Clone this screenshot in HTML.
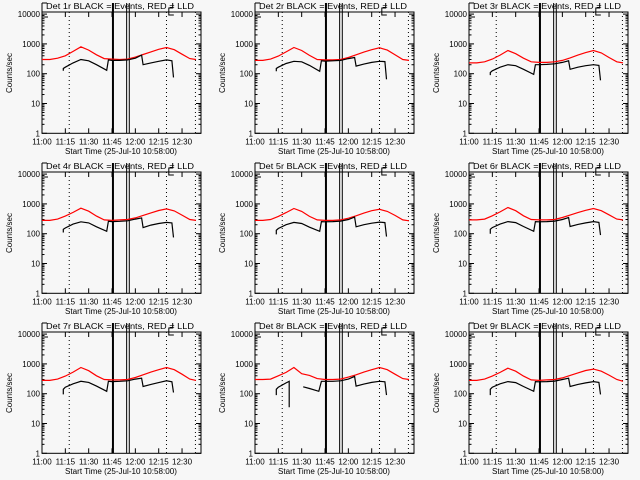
<!DOCTYPE html>
<html><head><meta charset="utf-8">
<style>
html,body{margin:0;padding:0;background:#f7f7f7;}
svg{display:block;}
text{font-family:"Liberation Sans",sans-serif;font-size:8px;fill:#000;}
</style></head>
<body>
<svg id="chart" width="640" height="480" viewBox="0 0 640 480" xmlns="http://www.w3.org/2000/svg"></svg>
<script>
const detNames = ["1r","2r","3r","4r","5r","6r","7r","8r","9r"];
const xTickLabels = ["11:00","11:15","11:30","11:45","12:00","12:15","12:30"];
const xTickMinutes = [0,15,30,45,60,75,90];
const yTickLabels = ["1","10","100","1000","10000"];
const yTickValues = [1,10,100,1000,10000];
const redTimes = [0,5,10,15,20,25,30,35,40,45,50,55,60,65,70,75,80,85,90,95,99];
const red1 = [300,300,330,400,560,800,620,430,320,310,300,310,360,440,540,660,760,640,450,320,300];
const red2 = [280,280,310,390,540,760,600,410,300,290,290,300,350,430,530,640,740,620,430,300,280];
const red3 = [230,230,250,310,420,600,470,330,250,240,240,250,280,340,420,510,600,500,350,250,230];
const red4 = [280,280,310,390,520,720,570,390,290,280,290,300,340,410,500,600,680,580,420,300,280];
const red5 = [280,280,300,380,510,700,560,380,290,280,280,290,330,400,490,590,660,560,410,290,270];
const red6 = [290,290,310,400,540,760,590,400,300,290,290,300,350,420,510,610,700,590,430,310,290];
const red7 = [280,280,310,390,530,760,590,400,300,290,290,300,350,430,530,640,760,640,450,310,280];
const red8 = [300,300,310,400,520,760,470,410,320,300,300,310,360,430,530,640,760,640,450,320,300];
const red9 = [280,280,310,390,520,720,570,390,290,280,290,300,340,410,500,600,670,570,420,300,260];
const blackTimes = [13.7,13.7,15,20,25,30,35,41.6,42.7,45,50,55,60,64,65,70,75,80,83.5,84.5];
const black1 = [125,150,165,230,300,270,200,130,290,280,280,290,330,420,200,230,260,290,270,75];
const black2 = [120,150,165,220,260,250,190,120,270,265,270,280,320,350,180,210,240,260,255,65];
const black3 = [90,110,125,165,200,185,140,95,200,200,205,215,240,270,140,165,185,200,190,60];
const black4 = [110,140,155,210,250,230,170,120,260,255,260,270,310,340,160,195,220,240,230,75];
const black5 = [95,130,150,200,240,220,165,120,255,250,255,265,300,360,170,200,225,245,235,80];
const black6 = [100,140,160,210,255,235,175,120,255,250,255,265,300,350,175,205,230,255,240,90];
const black7 = [95,140,165,215,260,240,180,120,260,255,260,270,310,330,175,205,235,270,250,110];
const black9 = [90,140,165,215,255,235,175,120,255,250,255,265,300,330,175,205,230,255,240,95];
const black8Times = [13.7,13.7,15,20,22,22,31,35,41,42.7,45,50,55,60,64,65,70,75,80,83.5,84.5];
const black8 = [90,140,165,230,260,35,170,150,120,260,260,260,270,310,380,180,210,240,260,250,90];
const redSeries = [red1,red2,red3,red4,red5,red6,red7,red8,red9];
const blackSeries = [black1,black2,black3,black4,black5,black6,black7,black8,black9];
const blackTimeSets = [blackTimes,blackTimes,blackTimes,blackTimes,blackTimes,blackTimes,blackTimes,black8Times,blackTimes];
const dottedMinutes = [17.5,80,98.6];
const markerMinutes = [45.6,54.4,56.1];

const svg = document.getElementById('chart');
const NS = 'http://www.w3.org/2000/svg';
function mk(tag, attrs, parent){
  const e = document.createElementNS(NS, tag);
  for (const k in attrs) e.setAttribute(k, attrs[k]);
  parent.appendChild(e);
  return e;
}
const colX = [0,213,427], rowY = [0,160,320];
const BL = 42, BR = 201, BT = 12, BB = 133.3;
const xScale = t => BL + t*1.556;
const yScale = v => BB - Math.log10(v)*29.8;

detNames.forEach((name, i) => {
  const ox = colX[i%3], oy = rowY[Math.floor(i/3)];
  const g = mk('g', {transform:`translate(${ox},${oy})`}, svg);
  
  

  const title = mk('text', {x:46, y:9, textLength:148, lengthAdjust:'spacingAndGlyphs', 'font-size':9}, g);
  title.textContent = 'Det ' + name + ' BLACK = Events, RED = LLD';
  
  

  const frame = mk('rect', {x:BL, y:BT, width:BR-BL, height:BB-BT, fill:'none', stroke:'#000', 'stroke-width':1}, g);
  
  

  yTickValues.forEach((v, k) => {
    const y = yScale(v);
    mk('line', {x1:BL, x2:BL+5, y1:y, y2:y, stroke:'#000'}, g);
    mk('line', {x1:BR-5, x2:BR, y1:y, y2:y, stroke:'#000'}, g);
    const t = mk('text', {x:BL-2, y:y+3, 'text-anchor':'end'}, g);
    t.textContent = yTickLabels[k];
    
    
    for (let m = 2; m <= 9; m++) {
      const yy = yScale(v*m);
      if (yy < BT) break;
      mk('line', {x1:BL, x2:BL+2.5, y1:yy, y2:yy, stroke:'#000'}, g);
      mk('line', {x1:BR-2.5, x2:BR, y1:yy, y2:yy, stroke:'#000'}, g);
    }
  });
  xTickMinutes.forEach((m, k) => {
    const x = xScale(m);
    mk('line', {x1:x, x2:x, y1:BB, y2:BB-5, stroke:'#000'}, g);
    mk('line', {x1:x, x2:x, y1:BT, y2:BT+5, stroke:'#000'}, g);
    const t = mk('text', {x:x, y:BB+11, 'text-anchor':'middle'}, g);
    t.textContent = xTickLabels[k];
    
    
  });
  const xt = mk('text', {x:65, y:154, textLength:112, lengthAdjust:'spacingAndGlyphs'}, g);
  xt.textContent = 'Start Time (25-Jul-10 10:58:00)';
  
  
  const yt = mk('text', {x:0, y:0, 'text-anchor':'middle', transform:'translate(12,73) rotate(-90)'}, g);
  yt.textContent = 'Counts/sec';
  
  

  dottedMinutes.forEach(m => {
    const x = xScale(m);
    const l = mk('line', {x1:x, x2:x, y1:BT, y2:BB, stroke:'#000', 'stroke-dasharray':'1,3'}, g);
    
    
  });
  markerMinutes.forEach((m, k) => {
    const x = xScale(m);
    const l = mk('line', {x1:x, x2:x, y1:3, y2:BB, stroke:'#000', 'stroke-width': k===0 ? 2 : 1}, g);
    
    
  });
  mk('polyline', {points:`${BL},3 ${BL},17 ${BL+6},17`, fill:'none', stroke:'#000'}, g);
  mk('polyline', {points:`${BL},3 ${BL+5},3`, fill:'none', stroke:'#000'}, g);
  mk('polyline', {points:`${xScale(81.5)+5},15 ${xScale(81.5)},15 ${xScale(81.5)},8 ${xScale(84)},8 ${xScale(84)},3`, fill:'none', stroke:'#000'}, g);

  const rp = redTimes.map((t, k) => xScale(t).toFixed(1)+','+yScale(redSeries[i][k]).toFixed(1)).join(' ');
  const r = mk('polyline', {points:rp, fill:'none', stroke:'#ff0000', 'stroke-width':1.2}, g);
  
  

  const bt = blackTimeSets[i], bv = blackSeries[i];
  let segs = [[]];
  bt.forEach((t, k) => {
    if (i === 7 && k === 6) segs.push([]);
    segs[segs.length-1].push(xScale(t).toFixed(1)+','+yScale(bv[k]).toFixed(1));
  });
  segs.forEach(s => {
    const b = mk('polyline', {points:s.join(' '), fill:'none', stroke:'#000', 'stroke-width':1.2}, g);
    
    
  });
});
</script>
</body></html>
